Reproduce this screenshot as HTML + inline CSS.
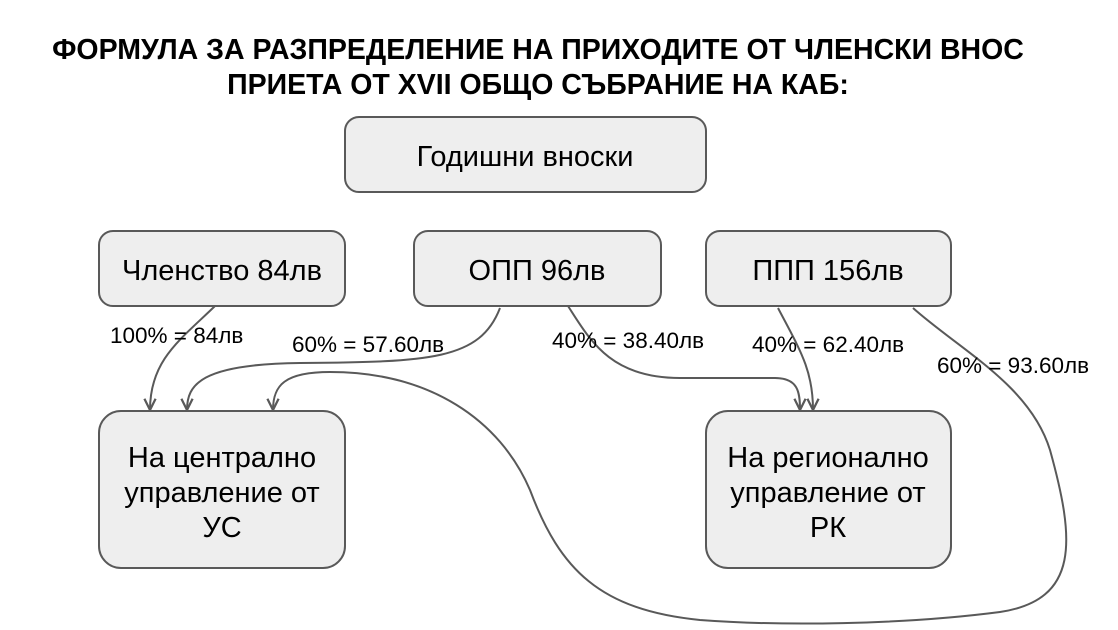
<!DOCTYPE html>
<html><head><meta charset="utf-8"><style>
html,body{margin:0;padding:0;background:#fff;}
svg{display:block;}
text{font-family:"Liberation Sans",Arial,sans-serif;fill:#000;}
</style></head><body>
<svg width="1118" height="630" viewBox="0 0 1118 630" xmlns="http://www.w3.org/2000/svg">
<defs>
<marker id="a" viewBox="0 0 10 10" refX="9" refY="5" markerWidth="14" markerHeight="14" orient="auto" markerUnits="userSpaceOnUse">
<path d="M1,1 L9,5 L1,9" fill="none" stroke="#595959" stroke-width="1.6"/>
</marker>
</defs>
<text x="538" y="59" font-size="28.5" font-weight="bold" text-anchor="middle">ФОРМУЛА ЗА РАЗПРЕДЕЛЕНИЕ НА ПРИХОДИТЕ ОТ ЧЛЕНСКИ ВНОС</text>
<text x="538" y="94" font-size="28.5" font-weight="bold" text-anchor="middle">ПРИЕТА ОТ XVII ОБЩО СЪБРАНИЕ НА КАБ:</text>
<g fill="#eeeeee" stroke="#595959" stroke-width="2">
<rect x="345" y="117" width="361" height="75" rx="14"/>
<rect x="99" y="231" width="246" height="75" rx="14"/>
<rect x="414" y="231" width="247" height="75" rx="14"/>
<rect x="706" y="231" width="245" height="75" rx="14"/>
<rect x="99" y="411" width="246" height="157" rx="22"/>
<rect x="706" y="411" width="245" height="157" rx="22"/>
</g>
<g font-size="29" text-anchor="middle">
<text x="525" y="166">Годишни вноски</text>
<text x="222" y="280">Членство 84лв</text>
<text x="537" y="280">ОПП 96лв</text>
<text x="828" y="280">ППП 156лв</text>
<text x="222" y="467">На централно</text>
<text x="222" y="502">управление от</text>
<text x="222" y="537">УС</text>
<text x="828" y="467">На регионално</text>
<text x="828" y="502">управление от</text>
<text x="828" y="537">РК</text>
</g>
<g fill="none" stroke="#595959" stroke-width="2" marker-end="url(#a)">
<path d="M215,306 C180,340 150,360 150,410"/>
<path d="M500,308 C480,360 430,362 300,363 C200,364 187,385 187,410"/>
<path d="M913,308 C960,350 1030,385 1050,450 C1075,540 1080,600 1000,612 C900,625 780,626 700,620 C600,610 560,570 530,490 C500,420 430,372 330,372 C285,372 273,385 273,410"/>
<path d="M568,306 C590,340 610,378 680,378 L775,378 C798,378 800,392 800,410"/>
<path d="M778,308 C800,350 813,370 813,410"/>
</g>
<g font-size="22.5">
<text x="110" y="343">100% = 84лв</text>
<text x="292" y="352">60% = 57.60лв</text>
<text x="552" y="348">40% = 38.40лв</text>
<text x="752" y="352">40% = 62.40лв</text>
<text x="937" y="373">60% = 93.60лв</text>
</g>
</svg>
</body></html>
